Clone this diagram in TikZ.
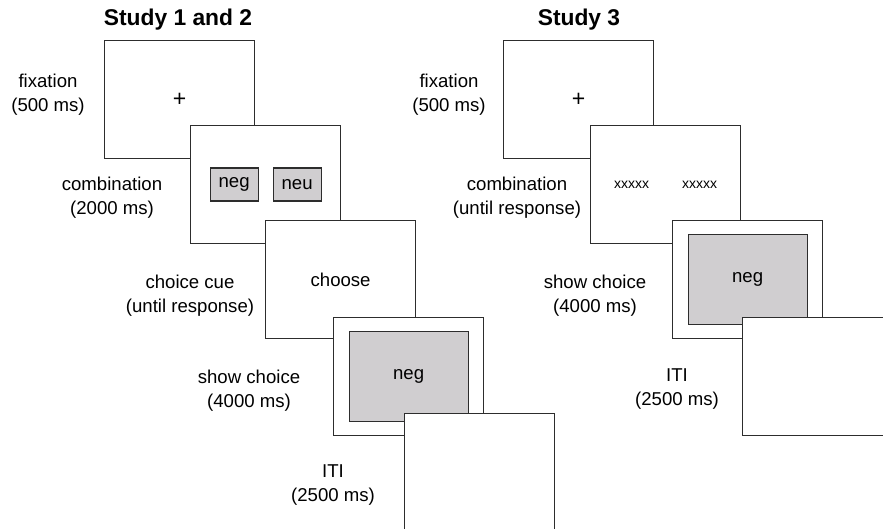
\documentclass[tikz,border=0pt]{standalone}
\usepackage{fontspec}
\setmainfont{Liberation Sans}
\usepackage{xcolor}
\definecolor{boxgray}{RGB}{208,206,208}
\definecolor{linegray}{RGB}{45,45,45}

\begin{document}
\begin{tikzpicture}[x=1pt,y=-1pt,
    screen/.style={draw=linegray,fill=white,line width=1.2pt,minimum width=150pt,minimum height=118pt,inner sep=0pt,anchor=north west,font=\fontsize{18.6}{24}\selectfont},
    stim/.style={draw=linegray,fill=boxgray,line width=1.2pt,minimum width=48pt,minimum height=33pt,inner sep=0pt,font=\fontsize{18.6}{24}\selectfont},
    choicebox/.style={stim,minimum width=119pt,minimum height=90pt},
    cross/.style={font=\fontsize{23}{24}\selectfont},
    mask/.style={font=\fontsize{14}{16}\selectfont},
    phase/.style={align=center,font=\fontsize{18.6}{24}\selectfont},
    heading/.style={font=\fontsize{22.8}{26}\selectfont\bfseries}]

    \useasboundingbox (0,0) rectangle (883,529);

    % Study 1 and 2
    \node[heading] (titleA) at (178,20) {Study 1 and 2};
    \node[screen] (fixA) at (104,40) {};
    \node[cross] (plusA) at (fixA.center) {+};
    \node[screen] (combA) at (190,125) {};
    \node[stim] (negA) at ([xshift=-31.5pt]combA.center) {neg};
    \node[stim] (neuA) at ([xshift=31.5pt]combA.center) {neu};
    \node[screen] (cueA) at (265,220) {choose};
    \node[screen] (showA) at (333,317) {};
    \node[choicebox] (pickA) at (showA.center) {neg};
    \node[screen] (itiA) at (404,413) {};

    \node[phase] (fixAlab) at (48,95) {fixation\\(500 ms)};
    \node[phase] (combAlab) at (112,198) {combination\\(2000 ms)};
    \node[phase] (cueAlab) at (190,296) {choice cue\\(until response)};
    \node[phase] (showAlab) at (249,391) {show choice\\(4000 ms)};
    \node[phase] (itiAlab) at (333,485) {ITI\\(2500 ms)};

    % Study 3
    \node[heading] (titleB) at (579,20) {Study 3};
    \node[screen] (fixB) at (503,40) {};
    \node[cross] (plusB) at (fixB.center) {+};
    \node[screen] (combB) at (590,125) {};
    \node[mask] (leftB) at ([xshift=-34pt]combB.center) {xxxxx};
    \node[mask] (rightB) at ([xshift=34pt]combB.center) {xxxxx};
    \node[screen] (showB) at (672,220) {};
    \node[choicebox] (pickB) at (showB.center) {neg};
    \node[screen] (itiB) at (742,317) {};

    \node[phase] (fixBlab) at (449,95) {fixation\\(500 ms)};
    \node[phase] (combBlab) at (517,198) {combination\\(until response)};
    \node[phase] (showBlab) at (595,296) {show choice\\(4000 ms)};
    \node[phase] (itiBlab) at (677,389) {ITI\\(2500 ms)};

\end{tikzpicture}
\end{document}
